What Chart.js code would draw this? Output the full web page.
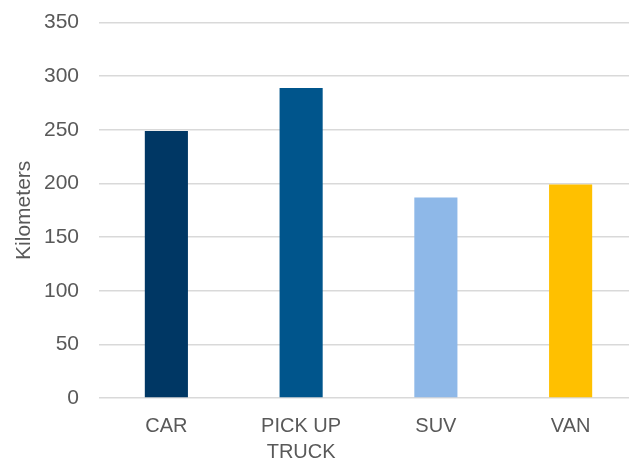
<!DOCTYPE html>
<html>
<head>
<meta charset="utf-8">
<script src="https://cdn.jsdelivr.net/npm/chart.js@4/dist/chart.umd.min.js"></script>
<style>
  html,body{margin:0;padding:0;background:#fff;overflow:hidden;}
  #wrap{position:relative;width:640px;height:476px;margin-top:-10px;}
</style>
</head>
<body>
<div id="wrap"><canvas id="chart"></canvas></div>
<script>
// vehicle type vs distance
const categories = ["CAR", ["PICK UP", "TRUCK"], "SUV", "VAN"];
const kilometers = [249, 289, 187, 199];
const barColors = ["#003764", "#00558C", "#8EB8E8", "#FFC000"];
const yTicks = [0, 50, 100, 150, 200, 250, 300, 350];

const TEXT = "#595959";
const GRID = "#d9d9d9";
const FONT = "'Liberation Sans', Arial, sans-serif";

new Chart(document.getElementById("chart"), {
  type: "bar",
  data: {
    labels: categories,
    datasets: [{
      label: "Kilometers",
      data: kilometers,
      backgroundColor: barColors,
      borderWidth: 0,
      barPercentage: 0.32,
      categoryPercentage: 1
    }]
  },
  options: {
    responsive: true,
    maintainAspectRatio: false,
    animation: false,
    layout: { padding: { left: 12, right: 2, top: 0, bottom: 0 } },
    plugins: { legend: { display: false }, tooltip: { enabled: false } },
    scales: {
      x: {
        grid: { display: false },
        border: { display: false },
        afterFit: function(axis){ axis.height = 68; },
        ticks: { color: TEXT, padding: 7, maxRotation: 0, font: { family: FONT, size: 20, lineHeight: 1.33 } }
      },
      y: {
        min: 0, max: 350,
        afterBuildTicks: function(axis){ axis.ticks = yTicks.map(function(v){ return { value: v }; }); },
        afterFit: function(axis){ axis.width = 87; },
        grid: { color: GRID, lineWidth: 1.5, drawTicks: false },
        border: { display: false },
        ticks: { color: TEXT, padding: 20, font: { family: FONT, size: 21 } },
        title: { display: true, text: "Kilometers", color: TEXT, padding: { top: 0, bottom: 8 }, font: { family: FONT, size: 21 } }
      }
    }
  }
});
</script>
</body>
</html>
